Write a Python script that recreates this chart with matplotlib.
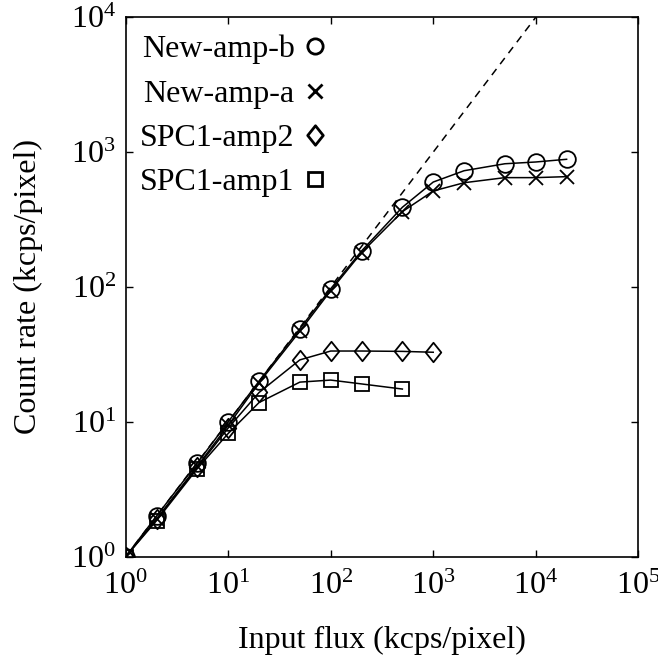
import math
import matplotlib
matplotlib.use("Agg")
import matplotlib.pyplot as plt
from matplotlib.lines import Line2D
from matplotlib.path import Path
from matplotlib.ticker import FixedLocator, FuncFormatter, NullLocator

plt.rcParams['font.family'] = ['Liberation Serif', 'DejaVu Serif']
plt.rcParams['mathtext.fontset'] = 'custom'
plt.rcParams['mathtext.rm'] = 'Liberation Serif'
plt.rcParams['mathtext.it'] = 'Liberation Serif:italic'

flux = [1, 2, 5, 10, 20, 50, 100, 200, 500, 1000, 2000, 5000, 10000, 20000]
new_amp_b = [1.0, 2.0, 4.95, 10.0, 20.0, 49, 97, 185, 390, 600, 728, 820, 845, 885]
new_amp_a = [1.0, 1.9, 4.7, 9.4, 19.5, 47, 94, 180, 362, 515, 593, 647, 647, 658]
flux_spc2 = [1, 2, 5, 10, 20, 50, 100, 200, 500, 1000]
spc1_amp2 = [1.0, 1.9, 4.6, 9.0, 16.5, 28.8, 33.5, 33.5, 33.3, 32.8]
flux_spc1 = [1, 2, 5, 10, 20, 50, 100, 200, 500]
spc1_amp1 = [1.0, 1.85, 4.5, 8.2, 13.9, 19.7, 20.4, 19.1, 17.5]
ideal_x = [1, 1e5]
ideal_y = [1, 1e5]

labels = ["New-amp-b", "New-amp-a", "SPC1-amp2", "SPC1-amp1"]
xticks = [1, 10, 100, 1000, 10000, 100000]
yticks = [1, 10, 100, 1000, 10000]

diamond = Path([(0, 1), (0.8, 0), (0, -1), (-0.8, 0), (0, 1)],
               [Path.MOVETO, Path.LINETO, Path.LINETO, Path.LINETO, Path.CLOSEPOLY])

fig = plt.figure(figsize=(6.58, 6.57), dpi=100)
ax = fig.add_axes([0.191, 0.1527, 0.779, 0.821])

FS = 23
ms = 12
lw = 1.1
mew = 1.3
ax.plot(ideal_x, ideal_y, color='black', linestyle=(0, (5, 4)), linewidth=1.1, zorder=1)
ax.plot(flux, new_amp_b, color='black', lw=lw, marker='o', ms=ms, mfc='none', mec='black', mew=mew, zorder=3)
ax.plot(flux, new_amp_a, color='black', lw=lw, marker='x', ms=ms - 2, mec='black', mew=mew, zorder=3)
ax.plot(flux_spc2, spc1_amp2, color='black', lw=lw, marker=diamond, ms=ms + 2, mfc='none', mec='black', mew=mew, zorder=3)
ax.plot(flux_spc1, spc1_amp1, color='black', lw=lw, marker='s', ms=ms - 2, mfc='none', mec='black', mew=mew, zorder=3)

ax.set_xscale('log')
ax.set_yscale('log')
ax.set_xlim(1, 1e5)
ax.set_ylim(1, 1e4)

def fmt(v, pos):
    e = int(round(math.log10(v)))
    return r"$\mathregular{10^{%d}}$" % e

ax.xaxis.set_major_locator(FixedLocator(xticks))
ax.yaxis.set_major_locator(FixedLocator(yticks))
ax.xaxis.set_minor_locator(NullLocator())
ax.yaxis.set_minor_locator(NullLocator())
ax.xaxis.set_major_formatter(FuncFormatter(fmt))
ax.yaxis.set_major_formatter(FuncFormatter(fmt))
ax.tick_params(which='both', direction='in', top=True, right=True, length=5, width=1.0,
               labelsize=FS)
ax.tick_params(axis='x', pad=11)
ax.tick_params(axis='y', pad=7)
for s in ax.spines.values():
    s.set_linewidth(1.2)

ax.set_xlabel("Input flux (kcps/pixel)", fontsize=FS, labelpad=18)
ax.set_ylabel("Count rate (kcps/pixel)", fontsize=FS, labelpad=20)

handles = [
    Line2D([], [], linestyle='none', marker='o', ms=11, mfc='none', mec='black', mew=2),
    Line2D([], [], linestyle='none', marker='x', ms=10, mec='black', mew=2),
    Line2D([], [], linestyle='none', marker=diamond, ms=14, mfc='none', mec='black', mew=2),
    Line2D([], [], linestyle='none', marker='s', ms=10, mfc='none', mec='black', mew=2),
]
ax.legend(handles, labels, loc='upper left', bbox_to_anchor=(-0.006, 1.0), frameon=False,
          markerfirst=False, fontsize=FS, handlelength=0.75, handletextpad=0.25,
          labelspacing=0.47, borderaxespad=0.35, borderpad=0.2)

fig.savefig("out.png", dpi=100)
